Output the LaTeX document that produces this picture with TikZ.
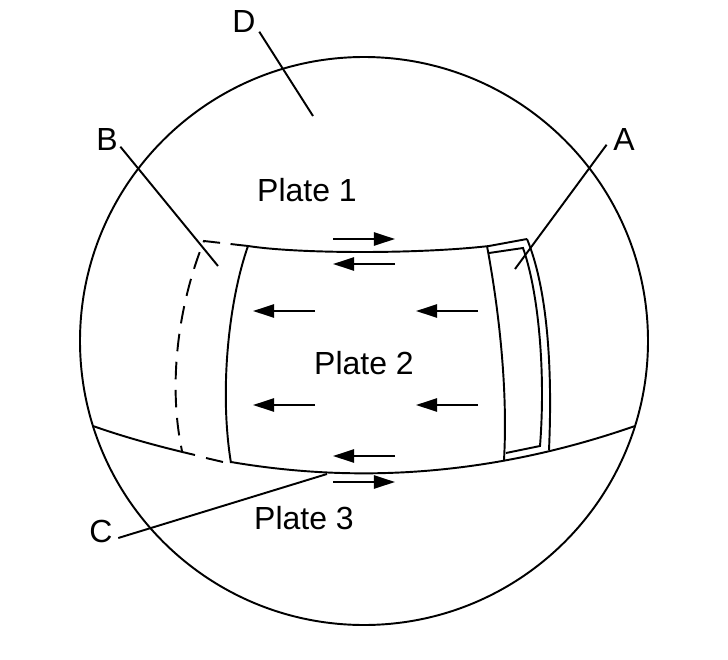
\documentclass[tikz,border=0pt]{standalone}
\usepackage{fontspec}
\setmainfont{Liberation Sans}
\usetikzlibrary{arrows.meta}

\begin{document}
\begin{tikzpicture}[x=0.02cm,y=-0.02cm,line width=1.1pt,
    stream/.style={-{Triangle[length=12pt,width=7.5pt]},line width=1.2pt},
    label/.style={font=\fontsize{18.2}{20}\selectfont,inner sep=1pt}]
    \useasboundingbox (0,0) rectangle (728,660);
    %sphere
    \draw (364,341) circle (284);
    %plate boundaries
    \draw (93,426) .. controls (127,438) and (161,447) .. (195,455);
    \draw (231,462) .. controls (366,485) and (500,473) .. (635,426);
    \draw (248,246) .. controls (300,254) and (420,254) .. (489,246) -- (527,239);
    \draw (248,246) .. controls (229,300) and (219,390) .. (231,463);
    \draw (487,246) .. controls (499,310) and (508,390) .. (504,460);
    \draw (527,239) .. controls (546,285) and (553,360) .. (549,450);
    \draw (489,253) -- (523,248) .. controls (538,290) and (546,370) .. (540,446) -- (506,453);
    %old boundary
    \draw [dash pattern=on 10pt off 6pt] (248,246) -- (204,241) .. controls (180,300) and (167,380) .. (182,451);
    \draw (206,458) -- (223,462);
    %arrows
    \draw [stream] (333,239) -- (395,239);
    \draw [stream] (395,264) -- (333,264);
    \draw [stream] (315,311) -- (253,311);
    \draw [stream] (478,311) -- (416,311);
    \draw [stream] (315,405) -- (253,405);
    \draw [stream] (478,405) -- (416,405);
    \draw [stream] (395,456) -- (333,456);
    \draw [stream] (333,482) -- (395,482);
    %labels
    \node [label] (plate1) at (307,190) {Plate 1};
    \node [label] (plate2) at (364,363) {Plate 2};
    \node [label] (plate3) at (304,518) {Plate 3};
    \node [label] (A) at (624,139) {A};
    \node [label] (B) at (107,139) {B};
    \node [label] (C) at (101,531) {C};
    \node [label] (D) at (244,21) {D};
    %leaders
    \coordinate (Atip) at (515,269);
    \coordinate (Btip) at (218,266);
    \coordinate (Ctip) at (327,474);
    \coordinate (Dtip) at (313,116);
    \draw ([shift={(-4,-8)}]A.south west) -- (Atip);
    \draw ([shift={(0,-6)}]B.south east) -- (Btip);
    \draw ([shift={(3,7)}]C.east) -- (Ctip);
    \draw ([shift={(1,-3)}]D.south east) -- (Dtip);
\end{tikzpicture}
\end{document}
